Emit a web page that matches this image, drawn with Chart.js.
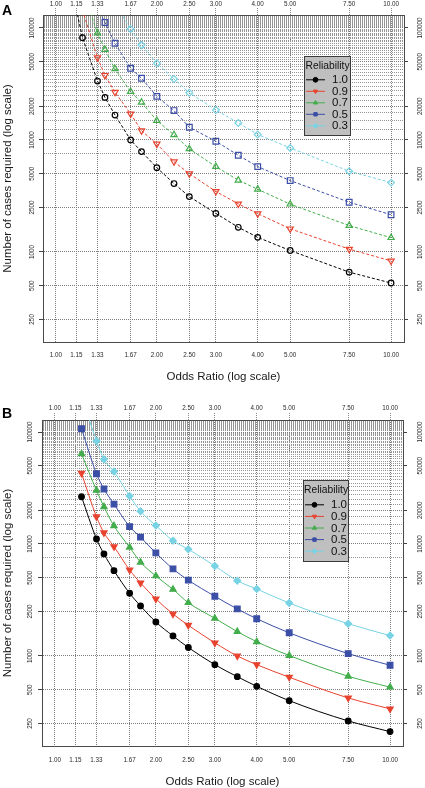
<!DOCTYPE html>
<html>
<head>
<meta charset="utf-8">
<script src="https://cdn.jsdelivr.net/npm/chart.js@4.4.1/dist/chart.umd.min.js"></script>
<style>
html,body{margin:0;padding:0;background:#fff;}
#wrap{position:relative;width:425px;height:788px;overflow:hidden;}
canvas{position:absolute;left:0;}
#ca{top:0;} #cb{top:394px;}
</style>
</head>
<body>
<div id="wrap">
<canvas id="ca" width="425" height="394"></canvas>
<canvas id="cb" width="425" height="394"></canvas>
</div>
<script>
// ---------- DATA ----------
const reliabilityLabels = ['1.0', '0.9', '0.7', '0.5', '0.3'];

// Panel A (values beyond the top of the plot are estimated from where the lines leave the frame)
const oddsRatioA = [1.15, 1.2, 1.33, 1.4, 1.5, 1.67, 1.8, 2.0, 2.25, 2.5, 3.0, 3.5, 4.0, 5.0, 7.5, 10.0];
const casesA_rel10 = [146000, 81900, 33600, 24000, 16700, 10000, 7870, 5660, 4080, 3120, 2210, 1660, 1350, 1030, 660, 528];
const casesA_rel09 = [null, 144000, 54300, 37800, 26700, 17100, 12100, 9200, 6400, 5000, 3470, 2690, 2200, 1610, 1060, 832];
const casesA_rel07 = [null, 221000, 90000, 64000, 43100, 27000, 21700, 14900, 11100, 8320, 5780, 4370, 3630, 2670, 1720, 1340];
const casesA_rel05 = [null, null, 151000, 112000, 73000, 43700, 35600, 24500, 18300, 13000, 9730, 7300, 5780, 4340, 2780, 2150];
const casesA_rel03 = [null, null, null, null, 164000, 98000, 70500, 48400, 35100, 26400, 18500, 14200, 11200, 8490, 5260, 4160];

// Panel B
const oddsRatioB = [1.2, 1.33, 1.4, 1.5, 1.67, 1.8, 2.0, 2.25, 2.5, 3.0, 3.5, 4.0, 5.0, 7.5, 10.0];
const casesB_rel10 = [26400, 11100, 8150, 5780, 3630, 2800, 2010, 1510, 1190, 836, 653, 536, 399, 263, 211];
const casesB_rel09 = [42800, 17500, 12600, 9460, 5860, 4490, 3230, 2370, 1880, 1310, 1000, 836, 646, 422, 337];
const casesB_rel07 = [63700, 30100, 21500, 14500, 9350, 6870, 5180, 3930, 2990, 2170, 1650, 1340, 1010, 659, 526];
const casesB_rel05 = [107000, 42400, 31000, 22700, 14300, 11500, 8320, 5990, 4750, 3410, 2630, 2150, 1610, 1050, 826];
const casesB_rel03 = [210000, 83100, 57000, 44300, 26800, 19600, 14600, 10700, 8970, 6370, 4700, 3960, 2970, 1940, 1520];

// Tick labels
const xTickValues = [1.00, 1.15, 1.33, 1.67, 2.00, 2.50, 3.00, 4.00, 5.00, 7.50, 10.00];
const yTickLabels = [250, 500, 1000, 2500, 5000, 10000, 20000, 50000, 100000];
const yGridStep = 2500;

// ---------- STYLE ----------
const FONT = '"Liberation Sans", Arial, Helvetica, sans-serif';
const seriesColors = ['#000000', '#e8432f', '#42ad4b', '#3c4fa6', '#78d3e4'];
const seriesStyles = ['circle', 'triangle', 'triangle', 'rect', 'rectRot'];
const seriesRot = [0, 180, 0, 0, 0];
const seriesRadius = [2.8, 3.6, 3.6, 4.0, 3.4];
const GRID_X = '#7c7c7c';
const GRID_Y = '#959595';

// grid lines: 250, 500, 1000 and every 2500; split in two phases so neighbouring dotted lines interleave
function gridValues(max, phase) {
  const v = phase === 0 ? [250, 500, 1000, 2500] : [];
  for (let k = 2 * yGridStep; k <= max; k += yGridStep) {
    const odd = (Math.round(k / yGridStep) % 2) === 1;
    if ((phase === 0 && !odd) || (phase === 1 && odd)) v.push(k);
  }
  return v;
}
const isLabeled = v => yTickLabels.indexOf(v) >= 0;

const legendPlugin = {
  id: 'relLegend',
  afterDatasetsDraw(chart, args, o) {
    if (!o || !o.w) return;
    const ctx = chart.ctx;
    ctx.save();
    ctx.fillStyle = '#bfbfbf';
    ctx.fillRect(o.x, o.y, o.w, o.h);
    ctx.strokeStyle = '#3a3a3a';
    ctx.lineWidth = 1;
    ctx.strokeRect(o.x + 0.5, o.y + 0.5, o.w - 1, o.h - 1);
    ctx.fillStyle = '#111';
    ctx.textBaseline = 'middle';
    ctx.textAlign = 'center';
    ctx.font = '10.3px ' + FONT;
    ctx.fillText('Reliability', o.x + o.w / 2, o.y + o.title);
    ctx.textAlign = 'left';
    ctx.font = '11.5px ' + FONT;
    chart.data.datasets.forEach((ds, i) => {
      const yy = o.y + o.first + i * o.step;
      ctx.setLineDash([]);
      ctx.strokeStyle = ds.borderColor;
      ctx.lineWidth = 1;
      ctx.beginPath();
      ctx.moveTo(o.x + 2, yy + 0.5);
      ctx.lineTo(o.x + 21, yy + 0.5);
      ctx.stroke();
      ctx.fillStyle = ds.borderColor;
      ctx.strokeStyle = ds.borderColor;
      Chart.helpers.drawPoint(ctx, {pointStyle: ds.pointStyle, rotation: ds.pointRotation, radius: 2.4, borderWidth: 1}, o.x + 11.5, yy + 0.5);
      ctx.fillStyle = '#111';
      ctx.fillText(ds.label, o.x + 28, yy + 1);
    });
    ctx.restore();
  }
};

const letterPlugin = {
  id: 'panelLetter',
  afterDraw(chart, args, o) {
    if (!o || !o.text) return;
    const ctx = chart.ctx;
    ctx.save();
    ctx.fillStyle = '#000';
    ctx.font = 'bold 14px ' + FONT;
    ctx.textAlign = 'left';
    ctx.textBaseline = 'alphabetic';
    ctx.fillText(o.text, 2, o.y);
    ctx.restore();
  }
};

function makeChart(cfg) {
  const datasets = cfg.y.map((vals, i) => ({
    label: reliabilityLabels[i],
    data: cfg.x.map((x, j) => ({x: x, y: vals[j]})),
    borderColor: seriesColors[i],
    backgroundColor: seriesColors[i],
    pointBorderColor: seriesColors[i],
    pointBackgroundColor: cfg.filled ? seriesColors[i] : 'rgba(0,0,0,0)',
    pointStyle: seriesStyles[i],
    pointRotation: seriesRot[i],
    pointRadius: seriesRadius[i],
    pointBorderWidth: 1.2,
    borderWidth: 1,
    borderDash: cfg.dashed ? [3, 2] : [],
    cubicInterpolationMode: cfg.dashed ? 'default' : 'monotone',
    tension: 0,
    fill: false,
    spanGaps: false
  }));
  const tickFont = {size: 6.3, family: FONT};
  const tickColor = '#2a2a2a';
  const yTicks0 = s => { s.ticks = gridValues(cfg.ymax, 0).map(v => ({value: v})); };
  const yTicks1 = s => { s.ticks = gridValues(cfg.ymax, 1).map(v => ({value: v})); };
  const yLabelTicks = s => { s.ticks = yTickLabels.map(v => ({value: v})); };
  const xTicks = s => { s.ticks = xTickValues.map(v => ({value: v})); };
  const yTickMark = c => (c.tick && isLabeled(c.tick.value)) ? '#444' : 'rgba(0,0,0,0)';
  return new Chart(document.getElementById(cfg.canvas), {
    type: 'line',
    data: {datasets: datasets},
    plugins: [legendPlugin, letterPlugin],
    options: {
      responsive: false,
      animation: false,
      devicePixelRatio: 1,
      layout: {padding: 0},
      plugins: {
        legend: {display: false},
        tooltip: {enabled: false},
        relLegend: cfg.legend,
        panelLetter: cfg.letter
      },
      scales: {
        x: {
          type: 'logarithmic', position: 'bottom', min: cfg.xmin, max: cfg.xmax,
          afterBuildTicks: xTicks,
          afterFit: s => { s.height = cfg.bottomH; },
          ticks: {autoSkip: false, minRotation: 0, maxRotation: 0, padding: cfg.xBottomPad, font: tickFont, color: tickColor,
                  callback: v => Number(v).toFixed(2)},
          grid: {color: GRID_X, lineWidth: 1, drawTicks: false, drawOnChartArea: true},
          border: {display: true, color: '#4a4a4a', width: 1, dash: [1, 1]},
          title: {display: true, text: 'Odds Ratio (log scale)', color: '#1a1a1a',
                  font: {size: 11.5, family: FONT, lineHeight: 1}, padding: {top: 0, bottom: cfg.titleBPad}}
        },
        x2: {
          type: 'logarithmic', position: 'top', min: cfg.xmin, max: cfg.xmax,
          afterBuildTicks: xTicks,
          afterFit: s => { s.height = cfg.topH; },
          ticks: {autoSkip: false, minRotation: 0, maxRotation: 0, padding: cfg.xTopPad, font: tickFont, color: tickColor,
                  callback: v => Number(v).toFixed(2)},
          grid: {drawOnChartArea: false, drawTicks: true, tickLength: 7, tickColor: '#888', tickWidth: 1, tickBorderDash: [1, 1]},
          border: {display: true, color: '#4a4a4a', width: 1}
        },
        yg: {
          type: 'logarithmic', position: 'left', min: cfg.ymin, max: cfg.ymax,
          afterBuildTicks: yTicks1,
          afterFit: s => { s.width = 0; },
          ticks: {display: false, autoSkip: false},
          grid: {color: GRID_Y, lineWidth: 1, drawTicks: false, drawOnChartArea: true},
          border: {display: false, dash: [1, 1], dashOffset: 1}
        },
        y: {
          type: 'logarithmic', position: 'left', min: cfg.ymin, max: cfg.ymax,
          afterBuildTicks: yTicks0,
          afterFit: s => { s.width = cfg.leftW; },
          ticks: {autoSkip: false, minRotation: 90, maxRotation: 90, crossAlign: 'center', padding: cfg.yLeftPad,
                  font: tickFont, color: tickColor, callback: v => isLabeled(v) ? String(v) : ''},
          grid: {color: c => (c.tick && isLabeled(c.tick.value)) ? GRID_X : GRID_Y, lineWidth: 1, drawTicks: true, tickLength: 4, tickColor: yTickMark, tickWidth: 1},
          border: {display: true, color: '#4a4a4a', width: 1, dash: [1, 1]},
          title: {display: true, text: 'Number of cases required (log scale)', color: '#1a1a1a',
                  font: {size: 11.5, family: FONT, lineHeight: 1}, padding: {top: 1.75, bottom: 0}}
        },
        y2: {
          type: 'logarithmic', position: 'right', min: cfg.ymin, max: cfg.ymax,
          afterBuildTicks: yLabelTicks,
          afterFit: s => { s.width = cfg.rightW; },
          ticks: {autoSkip: false, minRotation: 90, maxRotation: 90, crossAlign: 'center', padding: cfg.yRightPad,
                  font: tickFont, color: tickColor, callback: v => String(v)},
          grid: {drawOnChartArea: false, drawTicks: true, tickLength: 4, tickColor: '#444', tickWidth: 1},
          border: {display: true, color: '#4a4a4a', width: 1}
        }
      }
    }
  });
}

makeChart({
  canvas: 'ca', x: oddsRatioA,
  y: [casesA_rel10, casesA_rel09, casesA_rel07, casesA_rel05, casesA_rel03],
  dashed: true, filled: false,
  xmin: 0.9146, xmax: 10.93, ymin: 157, ymax: 130600,
  leftW: 43, rightW: 21, topH: 15, bottomH: 52,
  xTopPad: 0.3, xBottomPad: 9.3, titleBPad: 11.25, yLeftPad: -3.3, yRightPad: 1.7,
  legend: {x: 304, y: 56, w: 47, h: 80, title: 10, first: 23.3, step: 11.5},
  letter: {text: 'A', y: 15}
});

makeChart({
  canvas: 'cb', x: oddsRatioB,
  y: [casesB_rel10, casesB_rel09, casesB_rel07, casesB_rel05, casesB_rel03],
  dashed: false, filled: true,
  xmin: 0.9146, xmax: 10.93, ymin: 157, ymax: 128000,
  leftW: 42, rightW: 22, topH: 26, bottomH: 42,
  xTopPad: 1.3, xBottomPad: 10.3, titleBPad: 0.25, yLeftPad: -3, yRightPad: 2.7,
  legend: {x: 303, y: 86, w: 46, h: 82, title: 10, first: 24.3, step: 11.6},
  letter: {text: 'B', y: 24}
});
</script>
</body>
</html>
